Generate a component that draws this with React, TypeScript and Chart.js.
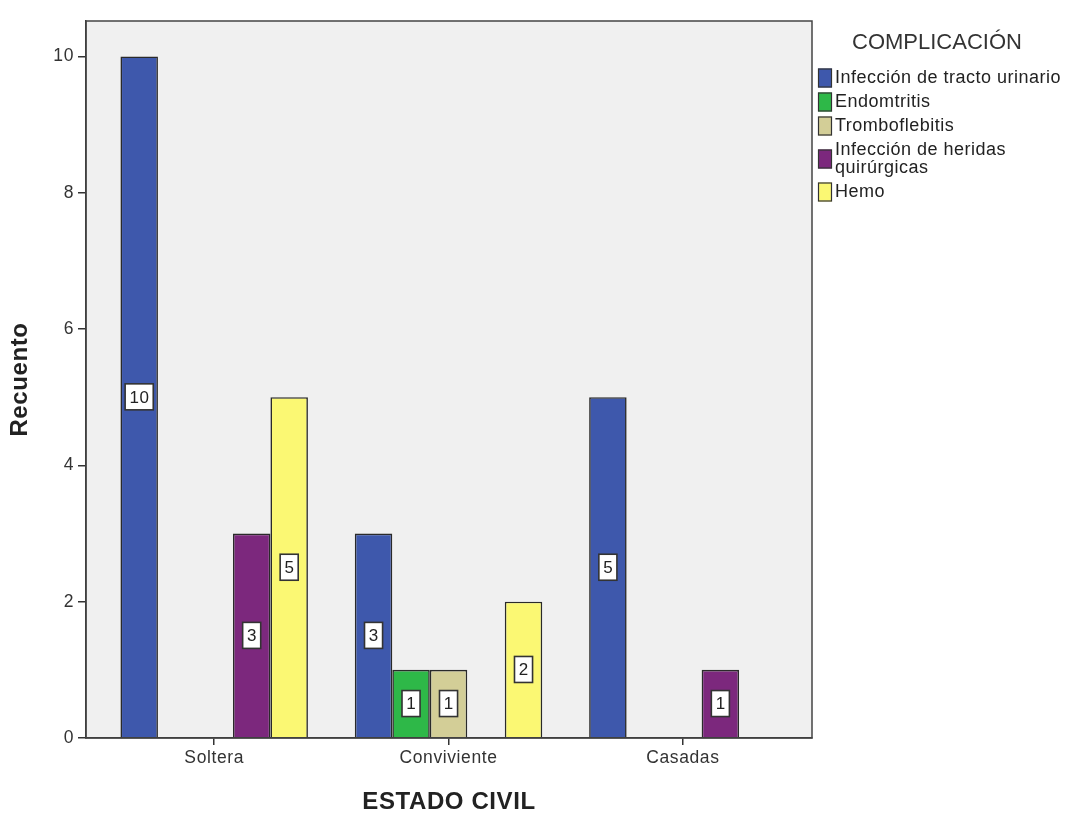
import React, { useEffect, useRef } from "react";
import { Chart, registerables } from "chart.js";

Chart.register(...registerables);

const categories = ["Soltera", "Conviviente", "Casadas"];
const seriesNames = [
  "Infección de tracto urinario",
  "Endomtritis",
  "Tromboflebitis",
  "Infección de heridas quirúrgicas",
  "Hemo",
];
const legendLines = [
  ["Infección de tracto urinario"],
  ["Endomtritis"],
  ["Tromboflebitis"],
  ["Infección de heridas", "quirúrgicas"],
  ["Hemo"],
];
const urinario = [10, 3, 5];
const endometritis = [null, 1, null];
const tromboflebitis = [null, 1, null];
const heridas = [3, null, 1];
const hemo = [5, 2, null];
const seriesValues = [urinario, endometritis, tromboflebitis, heridas, hemo];
const colors = ["#3E58AC", "#2EB848", "#D3CE97", "#7C287D", "#FBF873"];
const yTicks = [0, 2, 4, 6, 8, 10];
const legendTitle = "COMPLICACIÓN";
const xTitle = "ESTADO CIVIL";
const yTitle = "Recuento";

const FONT = "'Liberation Sans', Arial, sans-serif";

const spacing = {
  id: "spacing",
  beforeUpdate(chart: any) {
    chart.ctx.letterSpacing = "0.6px";
  },
  beforeDraw(chart: any) {
    chart.ctx.letterSpacing = "0.6px";
  },
};

const plotBg = {
  id: "plotBg",
  beforeDraw(chart: any) {
    const { ctx, chartArea } = chart;
    ctx.save();
    ctx.fillStyle = "#F0F0F0";
    ctx.fillRect(chartArea.left, chartArea.top, chartArea.right - chartArea.left, chartArea.bottom - chartArea.top);
    ctx.restore();
  },
  afterDraw(chart: any) {
    const { ctx, chartArea } = chart;
    ctx.save();
    ctx.strokeStyle = "#444";
    ctx.lineWidth = 1.5;
    ctx.strokeRect(chartArea.left, chartArea.top, chartArea.right - chartArea.left, chartArea.bottom - chartArea.top);
    ctx.restore();
  },
};

const valueLabels = {
  id: "valueLabels",
  afterDatasetsDraw(chart: any) {
    const { ctx } = chart;
    ctx.save();
    ctx.font = `17px ${FONT}`;
    ctx.textAlign = "center";
    ctx.textBaseline = "middle";
    chart.data.datasets.forEach((ds: any, di: number) => {
      const meta = chart.getDatasetMeta(di);
      meta.data.forEach((el: any, i: number) => {
        const v = ds.data[i]?.y;
        if (v == null) return;
        const txt = String(v);
        const cy = (el.y + el.base) / 2;
        const w = ctx.measureText(txt).width + 8;
        const h = 26;
        ctx.fillStyle = "#FFFFFF";
        ctx.fillRect(el.x - w / 2, cy - h / 2, w, h);
        ctx.strokeStyle = "#333";
        ctx.lineWidth = 1.6;
        ctx.strokeRect(el.x - w / 2, cy - h / 2, w, h);
        ctx.fillStyle = "#222";
        ctx.fillText(txt, el.x + 0.3, cy + 1);
      });
    });
    ctx.restore();
  },
};

const customLegend = {
  id: "customLegend",
  afterDraw(chart: any) {
    const { ctx } = chart;
    ctx.save();
    ctx.letterSpacing = "0px";
    ctx.fillStyle = "#333";
    ctx.font = `22px ${FONT}`;
    ctx.textAlign = "left";
    ctx.textBaseline = "middle";
    ctx.fillText(legendTitle, 852, 43);
    ctx.letterSpacing = "0.5px";
    ctx.font = `18px ${FONT}`;
    let y = 78;
    const lh = 18;
    legendLines.forEach((lines, i) => {
      const n = lines.length;
      const mid = y + ((n - 1) * lh) / 2;
      const hBox = 19;
      ctx.fillStyle = colors[i];
      ctx.fillRect(818, mid - hBox / 2, 14, hBox);
      ctx.strokeStyle = "#333";
      ctx.lineWidth = 1.2;
      ctx.strokeRect(818.5, mid - hBox / 2 + 0.5, 13, hBox - 1);
      ctx.fillStyle = "#222";
      lines.forEach((t, j) => {
        ctx.fillText(t, 835, y + j * lh);
      });
      y += (n - 1) * lh + 24;
    });
    ctx.restore();
  },
};

export default function App() {
  const ref = useRef<HTMLCanvasElement>(null);
  useEffect(() => {
    const datasets = seriesNames.map((name, si) => ({
      label: name,
      data: categories.map((_, ci) => ({ x: ci, y: seriesValues[si][ci] })),
      backgroundColor: colors[si],
      borderColor: "#2a2a2a",
      borderWidth: 1.6,
      categoryPercentage: 0.8,
      barPercentage: 1,
    }));
    const chart = new Chart(ref.current as HTMLCanvasElement, {
      type: "bar",
      data: { datasets } as any,
      plugins: [spacing, plotBg, valueLabels, customLegend],
      options: {
        animation: false,
        responsive: false,
        maintainAspectRatio: false,
        layout: { padding: { top: 21, right: 263, left: 0, bottom: 0 } },
        plugins: { legend: { display: false }, tooltip: { enabled: false } },
        scales: {
          x: {
            type: "linear",
            min: -0.547,
            max: 2.551,
            offset: false,
            afterBuildTicks: (s: any) => {
              s.ticks = categories.map((_, i) => ({ value: i }));
            },
            afterFit: (s: any) => {
              s.height = 94;
            },
            ticks: {
              autoSkip: false,
              maxRotation: 0,
              padding: 3,
              color: "#333",
              font: { family: FONT, size: 17.5 },
              callback: (v: any) => categories[v] ?? "",
            },
            grid: { display: true, offset: false, drawOnChartArea: false, drawTicks: true, tickLength: 7, color: "#333", lineWidth: 1.5 },
            border: { display: true, color: "#333", width: 1.5 },
            title: {
              display: true,
              text: xTitle,
              color: "#222",
              font: { family: FONT, size: 24, weight: "bold" },
              padding: { top: 0, bottom: 15 },
            },
          },
          y: {
            min: 0,
            max: 10.52,
            afterBuildTicks: (s: any) => {
              s.ticks = yTicks.map((v) => ({ value: v }));
            },
            afterFit: (s: any) => {
              s.width = 86;
            },
            ticks: {
              padding: 4,
              color: "#333",
              font: { family: FONT, size: 17.5 },
            },
            grid: { display: true, offset: false, drawOnChartArea: false, drawTicks: true, tickLength: 8, color: "#333", lineWidth: 1.5 },
            border: { display: true, color: "#333", width: 1.5 },
            title: {
              display: true,
              text: yTitle,
              color: "#222",
              font: { family: FONT, size: 24, weight: "bold" },
              padding: { top: 6, bottom: 0 },
            },
          },
        },
      } as any,
    });
    return () => chart.destroy();
  }, []);
  return (
    <div style={{ position: "fixed", left: 0, top: 0, width: 1075, height: 832, background: "#fff" }}>
      <canvas ref={ref} width={1075} height={832} style={{ width: 1075, height: 832, display: "block" }} />
    </div>
  );
}
